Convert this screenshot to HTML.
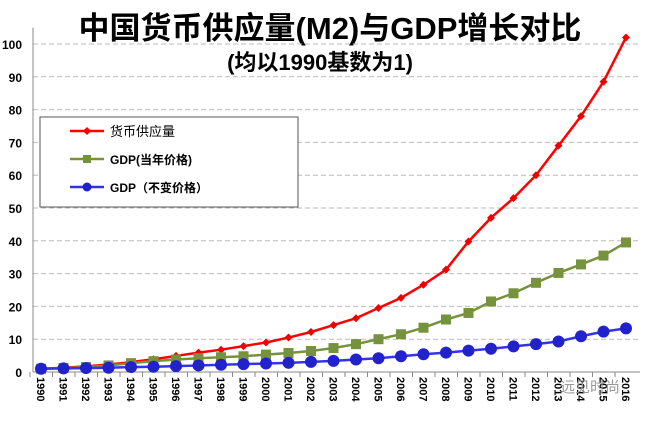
<!DOCTYPE html>
<html><head><meta charset="utf-8"><style>
body{margin:0;background:#fff;width:650px;height:420px;overflow:hidden;font-family:"Liberation Sans","Noto Sans CJK SC",sans-serif}
</style></head><body>
<svg id="chart" width="650" height="420" xmlns="http://www.w3.org/2000/svg" font-family="Liberation Sans, Noto Sans CJK SC, sans-serif">
<text x="330" y="39" text-anchor="middle" font-size="31" font-weight="bold">中国货币供应量(M2)与GDP增长对比</text>
<text x="320" y="70" text-anchor="middle" font-size="22" font-weight="bold">(均以1990基数为1)</text>
<g id="grid"></g><g id="axes"></g><g id="series"></g>
<g>
<rect x="40" y="117" width="258" height="90" fill="#fff" stroke="#555" stroke-width="1"/>
<line x1="70" y1="131" x2="104" y2="131" stroke="#f00" stroke-width="2.5"/><path d="M87 127 L91 131 L87 135 L83 131Z" fill="#f00"/>
<text x="110" y="136" font-size="13">货币供应量</text>
<line x1="70" y1="159" x2="104" y2="159" stroke="#76923c" stroke-width="2.5"/><rect x="83" y="155" width="8" height="8" fill="#76923c"/>
<text x="110" y="164" font-size="12" font-weight="bold">GDP(当年价格)</text>
<line x1="70" y1="187" x2="104" y2="187" stroke="#3333dd" stroke-width="2.5"/><circle cx="87" cy="187" r="4.5" fill="#22c"/>
<text x="110" y="192" font-size="12" font-weight="bold">GDP（不变价格）</text>
</g>
<text x="560" y="392" font-size="15" fill="#999">远见时尚</text>
</svg>
<script>
const years=[1990,1991,1992,1993,1994,1995,1996,1997,1998,1999,2000,2001,2002,2003,2004,2005,2006,2007,2008,2009,2010,2011,2012,2013,2014,2015,2016];
const m2=[1,1.3,1.7,2.3,3,3.9,4.9,5.9,6.8,7.9,9,10.5,12.2,14.3,16.4,19.5,22.6,26.6,31.2,39.8,47,53,60,69,78,88.5,102];
const gdpNominal=[1,1.2,1.5,2,2.7,3.3,3.8,4.2,4.5,4.8,5.3,5.8,6.4,7.3,8.5,10,11.5,13.5,16,18,21.5,24,27.2,30.2,32.8,35.5,39.5];
const gdpReal=[1,1.1,1.2,1.3,1.5,1.6,1.8,2,2.2,2.4,2.6,2.8,3.1,3.4,3.8,4.2,4.8,5.4,5.9,6.5,7.1,7.8,8.5,9.3,10.9,12.3,13.3];
const yTicks=[0,10,20,30,40,50,60,70,80,90,100];
const NS="http://www.w3.org/2000/svg";
const x=i=>41+i*22.5, y=v=>372-v*3.28;
function mk(t,a,p){const e=document.createElementNS(NS,t);for(const k in a)e.setAttribute(k,a[k]);p.appendChild(e);return e;}
const grid=document.getElementById('grid'),axes=document.getElementById('axes'),ser=document.getElementById('series');
yTicks.forEach(v=>{
 if(v>0){const g=mk('line',{x1:33,x2:640,y1:y(v),y2:y(v),stroke:'#bbb','stroke-dasharray':'5,3'},grid);
 
 }
 const t=mk('text',{x:22,y:y(v)+5,'text-anchor':'end','font-size':12,'font-weight':'bold'},axes);t.textContent=v;
 
 
});
mk('line',{x1:33,x2:33,y1:y(105),y2:372,stroke:'#888'},axes);
mk('line',{x1:33,x2:640,y1:372,y2:372,stroke:'#888'},axes);
years.forEach((yr,i)=>{
 mk('line',{x1:x(i)-11,x2:x(i)-11,y1:372,y2:377,stroke:'#888'},axes);
 const t=mk('text',{transform:`translate(${x(i)-4},377) rotate(90)`,'font-size':11,'font-weight':'bold'},axes);t.textContent=yr;
 
 
});
function series(vals,color,mcolor,shape,name){
 const g=mk('g',{},ser);
 
 
 mk('polyline',{points:vals.map((v,i)=>x(i)+','+y(v)).join(' '),fill:'none',stroke:color,'stroke-width':2.5},g);
 vals.forEach((v,i)=>{let m;
  if(shape==='d')m=mk('path',{d:`M${x(i)} ${y(v)-4}L${x(i)+4} ${y(v)}L${x(i)} ${y(v)+4}L${x(i)-4} ${y(v)}Z`,fill:mcolor},g);
  else if(shape==='s')m=mk('rect',{x:x(i)-5,y:y(v)-5,width:10,height:10,fill:mcolor},g);
  else m=mk('circle',{cx:x(i),cy:y(v),r:6,fill:mcolor},g);
  
  
 });
}
series(m2,'#f00','#e00','d','m2-series');
series(gdpNominal,'#76923c','#76923c','s','gdp-nominal-series');
series(gdpReal,'#3333ee','#2222cc','c','gdp-real-series');
</script>
</body></html>
